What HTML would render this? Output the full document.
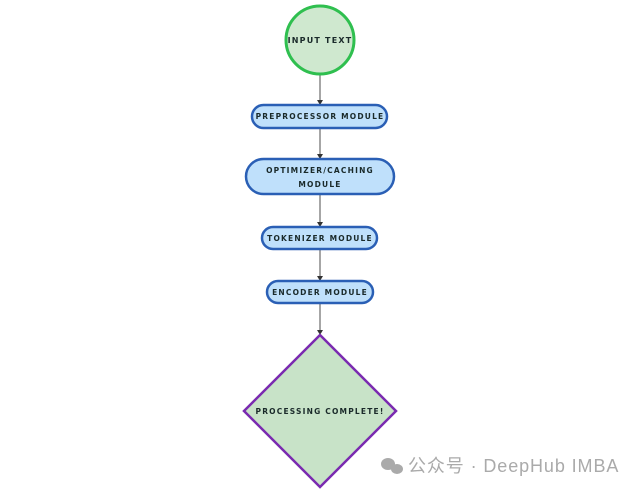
<!DOCTYPE html>
<html><head><meta charset="utf-8"><style>
body{margin:0;background:#fff;width:640px;height:493px;overflow:hidden}
svg text{font-family:"DejaVu Sans","Liberation Sans",sans-serif;font-weight:bold;letter-spacing:1.2px;fill:#1a2a2a}
</style></head><body>
<svg width="640" height="493" viewBox="0 0 640 493">
<g stroke="#888" stroke-width="1.5">
<line x1="320" y1="75" x2="320" y2="101"/>
<line x1="320" y1="129" x2="320" y2="155"/>
<line x1="320" y1="195" x2="320" y2="223"/>
<line x1="320" y1="250" x2="320" y2="277"/>
<line x1="320" y1="304" x2="320" y2="331"/>
</g>
<g fill="#333">
<path d="M317,100h6l-3,5z"/><path d="M317,154h6l-3,5z"/><path d="M317,222h6l-3,5z"/><path d="M317,276h6l-3,5z"/><path d="M317,330h6l-3,5z"/>
</g>
<circle cx="320" cy="40" r="34" fill="#cfe8cf" stroke="#2fbf4f" stroke-width="3"/>
<text x="320" y="43" font-size="8" text-anchor="middle">INPUT TEXT</text>
<g fill="#bfe0fb" stroke="#2a5fb5" stroke-width="2.5">
<rect x="252" y="105" width="135" height="23" rx="11.5"/>
<rect x="246" y="159" width="148" height="35" rx="17.5"/>
<rect x="262" y="227" width="115" height="22" rx="11"/>
<rect x="267" y="281" width="106" height="22" rx="11"/>
</g>
<g font-size="7.5" text-anchor="middle">
<text x="320" y="119">PREPROCESSOR MODULE</text>
<text x="320" y="173">OPTIMIZER/CACHING</text>
<text x="320" y="187">MODULE</text>
<text x="320" y="241">TOKENIZER MODULE</text>
<text x="320" y="295">ENCODER MODULE</text>
</g>
<polygon points="320,335 396,411 320,487 244,411" fill="#c8e3c8" stroke="#7a2ab0" stroke-width="2.5"/>
<text x="320" y="414" font-size="7.5" text-anchor="middle">PROCESSING COMPLETE!</text>
<g fill="#aaa"><ellipse cx="388" cy="464" rx="7" ry="6"/><ellipse cx="397" cy="469" rx="6" ry="5"/></g>
<text x="408" y="472" font-size="18" style="font-weight:normal;fill:#aaa;letter-spacing:0.9px;font-family:'Liberation Sans','Noto Sans CJK SC',sans-serif">公众号 · DeepHub IMBA</text>
</svg>
</body></html>
